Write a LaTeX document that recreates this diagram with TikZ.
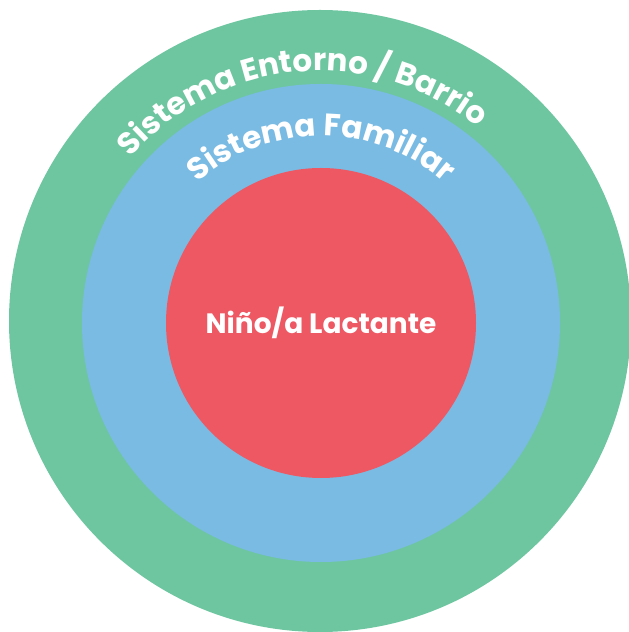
\documentclass[tikz,border=0pt]{standalone}
\usepackage{fontspec}
\setmainfont{Poppins}
\usetikzlibrary{decorations.text}
\definecolor{Entorno}{HTML}{6EC6A1}
\definecolor{Familia}{HTML}{7ABBE4}
\definecolor{Nino}{HTML}{ED5863}

\begin{document}
\begin{tikzpicture}[x=1pt,y=1pt,font=\bfseries\fontsize{28}{30}\selectfont,
  ring/.style={circle,inner sep=0pt,draw=none},
  arclabel/.style={decorate,decoration={text along path,text align=center,
    text color=white,text={|\bfseries\fontsize{31}{33}\selectfont|#1}}}]
  \useasboundingbox (0,0) rectangle (629,632);
  \node[ring,fill=Entorno,minimum size=622pt] (entorno) at (320,311) {};
  \node[ring,fill=Familia,minimum size=478pt] (familia) at (321,309) {};
  \node[ring,fill=Nino,minimum size=310pt,text=white] (nino) at (321,309) {Niño/a Lactante};
  % labels set on arcs round the centre
  \path[arclabel={Sistema Entorno / Barrio}] ([shift={(185:250pt)}]entorno.center)
    arc[start angle=185,end angle=5,radius=250pt];
  \path[arclabel={Sistema Familiar}] ([shift={(180:187pt)}]familia.center)
    arc[start angle=180,end angle=0,radius=187pt];
\end{tikzpicture}
\end{document}
